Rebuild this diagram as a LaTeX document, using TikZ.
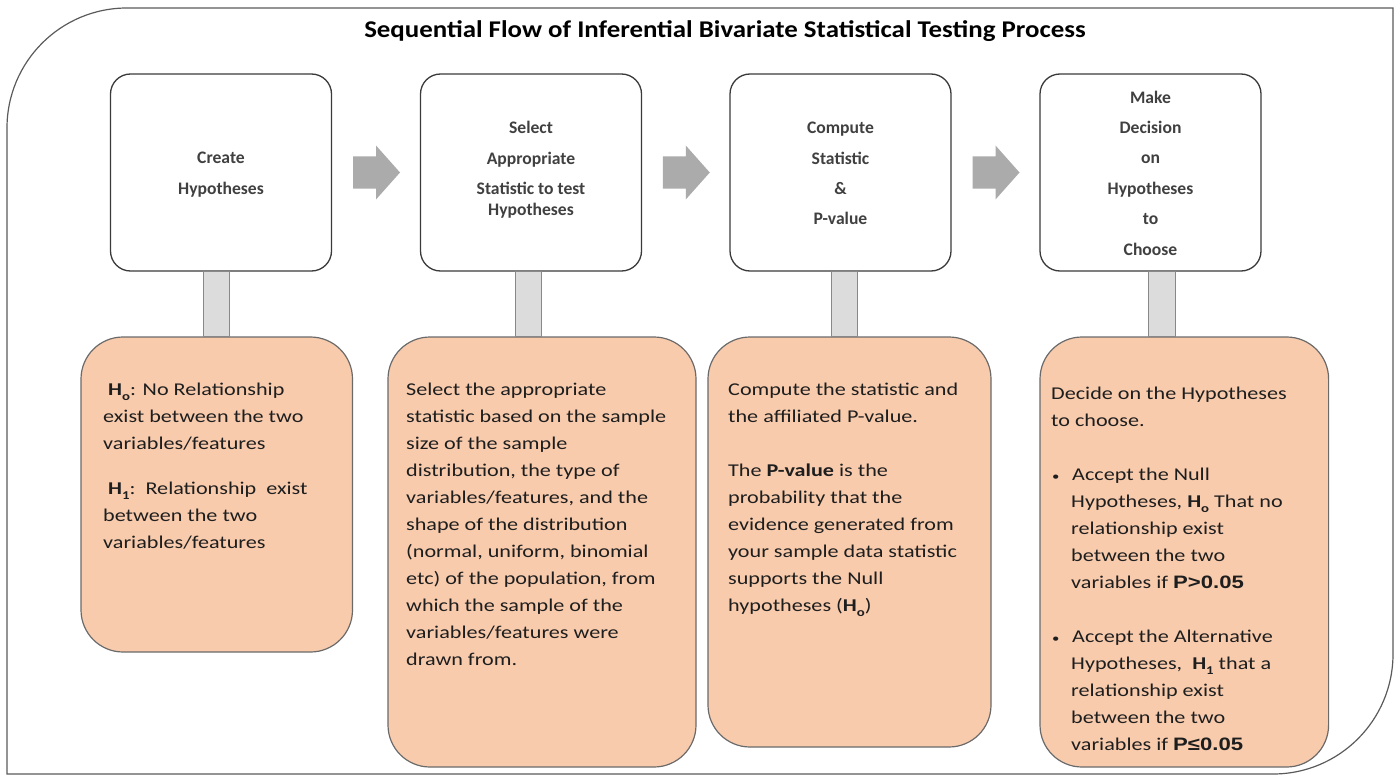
\documentclass[tikz,border=0pt]{standalone}
\usepackage{fontspec}
\setmainfont{Carlito}
\newfontfamily\bodyfont{Carlito}[FakeStretch=1.23]
\newfontfamily\titlefont{Carlito}[FakeStretch=1.12]
\newfontfamily\arialbody{Liberation Sans}[FakeStretch=1.23]
\usetikzlibrary{calc}
\definecolor{framecol}{HTML}{5A5A5A}
\definecolor{boxline}{HTML}{3A3A3A}
\definecolor{toptext}{HTML}{404040}
\definecolor{peach}{HTML}{F8CBAD}
\definecolor{peachline}{HTML}{6A6A6A}
\definecolor{arrowgray}{HTML}{ABABAB}
\definecolor{bargray}{HTML}{DCDCDC}
\definecolor{barline}{HTML}{888888}
\definecolor{bodytext}{HTML}{1E1E1E}
\newcommand{\Hsub}[1]{\textbf{H}\raisebox{-0.28em}{\fontsize{12}{12}\selectfont\textbf{#1}}}
\newcommand{\ind}{\hspace*{20pt}}
\newcommand{\bul}{\makebox[21pt][l]{\hspace*{1pt}{\fontsize{12}{12}\selectfont•}}}
\begin{document}
\begin{tikzpicture}[x=1pt,y=-1pt,
  frame/.style={draw=framecol, line width=1.2pt},
  stepbox/.style={draw=boxline, line width=1.3pt, rounded corners=20pt, fill=white,
    minimum width=221pt, minimum height=197pt, inner sep=0pt},
  steptext/.style={font=\bfseries\fontsize{17.6}{30.4}\selectfont, text=toptext, align=center, inner sep=0pt},
  notebox/.style={draw=peachline, line width=1.2pt, rounded corners=42pt, fill=peach, inner sep=0pt},
  notetext/.style={font=\bodyfont\fontsize{18}{27}\selectfont, text=bodytext, align=left, anchor=north west, inner sep=0pt},
  titletext/.style={font=\titlefont\bfseries\fontsize{24}{28}\selectfont, text=black, anchor=base, inner sep=0pt},
  bar/.style={draw=barline, fill=bargray, line width=1pt},
  blockarrow/.pic={\fill[arrowgray] (-23,-16) -- (0,-16) -- (0,-27) -- (24,0) -- (0,27) -- (0,16) -- (-23,16) -- cycle;}
]
\useasboundingbox (0,0) rectangle (1400,781);
% outer frame
\draw[frame] (7,128) .. controls (7,61.7) and (60.7,8) .. (127,8) -- (1393,8) -- (1393,654)
  .. controls (1393,720.3) and (1339.3,774) .. (1273,774) -- (7,774) -- cycle;
% title
\node[titletext] (title) at (725,38) {Sequential Flow of Inferential Bivariate Statistical Testing Process};
% step boxes
\node[stepbox] (b1) at (221,172.5) {};
\node[stepbox] (b2) at (531,172.5) {};
\node[stepbox] (b3) at (840.5,172.5) {};
\node[stepbox] (b4) at (1150.5,172.5) {};
\node[steptext] (t1) at ([yshift=-2pt]b1.center) {Create\\Hypotheses};
\node[steptext] (t2) at ([yshift=2.5pt]b2.center) {Select\\Appropriate\\Statistic to test\\[-9.4pt]Hypotheses};
\node[steptext] (t3) at ([yshift=-1pt]b3.center) {Compute\\Statistic\\\&\\P-value};
\node[steptext] (t4) at ([yshift=-0.5pt]b4.center) {Make\\Decision\\on\\Hypotheses\\to\\Choose};
% block arrows
\coordinate (m1) at ($(b1.east)!0.5!(b2.west)$);
\coordinate (m2) at ($(b2.east)!0.5!(b3.west)$);
\coordinate (m3) at ($(b3.east)!0.5!(b4.west)$);
\pic at (m1) {blockarrow};
\pic at (m2) {blockarrow};
\pic at (m3) {blockarrow};
% note boxes
\node[notebox, minimum width=271.5pt, minimum height=315pt] (o1) at (216.75,494.5) {};
\node[notebox, minimum width=308pt, minimum height=430pt] (o2) at (542,552) {};
\node[notebox, minimum width=283pt, minimum height=410pt] (o3) at (849.5,542) {};
\node[notebox, minimum width=288.6pt, minimum height=430pt] (o4) at (1184.3,552) {};
% connecting bars
\draw[bar] ([xshift=-18pt]b1.south) rectangle ([xshift=8pt]b1.south |- o1.north);
\draw[bar] ([xshift=-15.4pt]b2.south) rectangle ([xshift=10.5pt]b2.south |- o2.north);
\draw[bar] ([xshift=-9.5pt]b3.south) rectangle ([xshift=17pt]b3.south |- o3.north);
\draw[bar] ([xshift=-2pt]b4.south) rectangle ([xshift=25pt]b4.south |- o4.north);
% note texts
\node[notetext] (n1) at (103,376.5) {\strut\hspace*{5pt}\Hsub{o}: No Relationship\\
exist between the two\\
variables/features\\[18pt]
\hspace*{5pt}\Hsub{1}:\ \ Relationship\ \ exist\\
between the two\\
variables/features};
\node[notetext] (n2) at (406,376.5) {\strut Select the appropriate\\
statistic based on the sample\\
size of the sample\\
distribution, the type of\\
variables/features, and the\\
shape of the distribution\\
(normal, uniform, binomial\\
etc) of the population, from\\
which the sample of the\\
variables/features were\\
drawn from.};
\node[notetext] (n3) at (728,376.5) {\strut Compute the statistic and\\
the affiliated P-value.\\[27pt]
The \textbf{P-value} is the\\
probability that the\\
evidence generated from\\
your sample data statistic\\
supports the Null\\
hypotheses (\Hsub{o})};
\node[notetext] (n4) at (1051,380.5) {\strut Decide on the Hypotheses\\
to choose.\\[27pt]
\bul Accept the Null\\
\ind Hypotheses, \Hsub{o} That no\\
\ind relationship exist\\
\ind between the two\\
\ind variables if {\arialbody\bfseries P>0.05}\\[27pt]
\bul Accept the Alternative\\
\ind Hypotheses,\ \ \Hsub{1} that a\\
\ind relationship exist\\
\ind between the two\\
\ind variables if {\arialbody\bfseries P≤0.05}};
\end{tikzpicture}
\end{document}
